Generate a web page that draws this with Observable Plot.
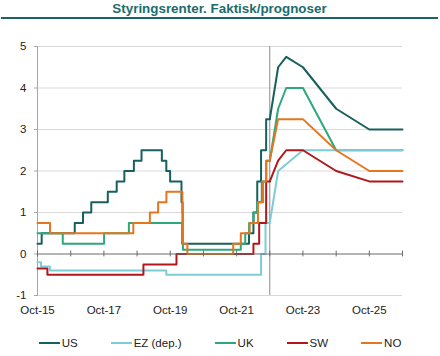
<!DOCTYPE html>
<html>
<head>
<meta charset="utf-8">
<script src="https://cdn.jsdelivr.net/npm/d3@7"></script>
<script src="https://cdn.jsdelivr.net/npm/@observablehq/plot@0.6"></script>
<style>
  body { margin: 0; background: #fff; font-family: "Liberation Sans", Arial, sans-serif; }
  #wrap { width: 440px; height: 356px; overflow: hidden; }
  #title { height: 17px; margin: 0 2px 0 1px; border-bottom: 2px solid #1d6363; text-align: center;
           font-weight: bold; font-size: 13.4px; line-height: 17px; color: #1d6b6b; }
  #legend { display: flex; justify-content: center; gap: 33px; font-size: 11.5px; color: #222;
            margin-top: 17px; line-height: 14px; }
  .item { display: flex; align-items: center; }
  .sw { width: 21px; height: 2px; margin-right: 2px; }
</style>
</head>
<body>
<div id="wrap">
  <div id="title">Styringsrenter. Faktisk/prognoser</div>
  <div id="chart"></div>
  <div id="legend"></div>
</div>
<script>
// ---- Data ----
const seriesNames = ["US", "EZ (dep.)", "UK", "SW", "NO"];
const seriesColors = ["#17605e", "#7ccdd6", "#2ca87a", "#b2181b", "#e5761f"];
const drawOrder = ["US", "UK", "EZ (dep.)", "SW", "NO"];

const usHistory = [["2015-10-31",0.25],["2015-12-16",0.5],["2016-12-14",0.75],["2017-03-15",1.0],["2017-06-14",1.25],
  ["2017-12-13",1.5],["2018-03-21",1.75],["2018-06-13",2.0],["2018-09-26",2.25],["2018-12-19",2.5],["2019-07-31",2.25],
  ["2019-09-18",2.0],["2019-10-30",1.75],["2020-03-03",1.25],["2020-03-15",0.25],["2022-03-16",0.5],["2022-05-04",1.0],
  ["2022-06-15",1.75],["2022-07-27",2.5],["2022-09-21",3.25],["2022-10-31",3.25]];
const usForecast = [["2022-10-31",3.25],["2023-01-31",4.5],["2023-04-30",4.75],["2023-10-31",4.5],["2024-10-31",3.5],
  ["2025-10-31",3.0],["2026-10-31",3.0]];

const ezHistory = [["2015-10-31",-0.2],["2015-12-09",-0.3],["2016-03-16",-0.4],["2019-09-18",-0.5],["2022-07-27",0.0],
  ["2022-09-14",0.75],["2022-10-31",0.75]];
const ezForecast = [["2022-10-31",0.75],["2023-01-31",2.0],["2023-10-31",2.5],["2024-10-31",2.5],["2025-10-31",2.5],
  ["2026-10-31",2.5]];

const ukHistory = [["2015-10-31",0.5],["2016-08-04",0.25],["2017-11-02",0.5],["2018-08-02",0.75],["2020-03-11",0.25],
  ["2020-03-19",0.1],["2021-12-16",0.25],["2022-02-03",0.5],["2022-03-17",0.75],["2022-05-05",1.0],["2022-06-16",1.25],
  ["2022-08-04",1.75],["2022-09-22",2.25],["2022-10-31",2.25]];
const ukForecast = [["2022-10-31",2.25],["2023-01-31",3.5],["2023-04-30",4.0],["2023-10-31",4.0],["2024-10-31",2.5],
  ["2025-10-31",2.5],["2026-10-31",2.5]];

const swHistory = [["2015-10-31",-0.35],["2016-02-17",-0.5],["2019-01-09",-0.25],["2020-01-08",0.0],["2022-05-04",0.25],
  ["2022-07-06",0.75],["2022-09-21",1.75],["2022-10-31",1.75]];
const swForecast = [["2022-10-31",1.75],["2023-01-31",2.25],["2023-04-30",2.5],["2023-10-31",2.5],["2024-10-31",2.0],
  ["2025-10-31",1.75],["2026-10-31",1.75]];

const noHistory = [["2015-10-31",0.75],["2016-03-17",0.5],["2018-09-20",0.75],["2019-03-21",1.0],["2019-06-20",1.25],
  ["2019-09-19",1.5],["2020-03-13",1.0],["2020-03-20",0.25],["2020-05-07",0.0],["2021-09-23",0.25],["2021-12-16",0.5],
  ["2022-03-24",0.75],["2022-06-23",1.25],["2022-08-18",1.75],["2022-09-22",2.25],["2022-10-31",2.25]];
const noForecast = [["2022-10-31",2.25],["2023-01-31",3.25],["2023-10-31",3.25],["2024-10-31",2.5],["2025-10-31",2.0],
  ["2026-10-31",2.0]];

const forecastStart = "2022-10-31";
const xDomain = ["2015-10-31", "2026-10-31"];
const yTicks = [-1, 0, 1, 2, 3, 4, 5];
const tickYears = [2015,2016,2017,2018,2019,2020,2021,2022,2023,2024,2025,2026];
const labelYears = [2015,2017,2019,2021,2023,2025];

// ---- Build ----
const parse = d3.utcParse("%Y-%m-%d");
const bySeries = {
  "US": [usHistory, usForecast], "EZ (dep.)": [ezHistory, ezForecast], "UK": [ukHistory, ukForecast],
  "SW": [swHistory, swForecast], "NO": [noHistory, noForecast]
};
const hist = [], fc = [];
for (const s of drawOrder) {
  bySeries[s][0].forEach(([d, v]) => hist.push({series: s, date: parse(d), value: v}));
  bySeries[s][1].forEach(([d, v]) => fc.push({series: s, date: parse(d), value: v}));
}
const yearDate = y => parse(`${y}-10-31`);
const tickDates = tickYears.map(yearDate);
const labelDates = labelYears.map(yearDate);

const chart = Plot.plot({
  width: 440,
  height: 300,
  marginTop: 27,
  marginBottom: 24,
  marginLeft: 37,
  marginRight: 38,
  style: {fontFamily: "'Liberation Sans', Arial, sans-serif", fontSize: "11.5px", color: "#222", background: "#fff"},
  x: {type: "utc", domain: xDomain.map(parse)},
  y: {domain: [-1, 5]},
  color: {domain: seriesNames, range: seriesColors},
  marks: [
    Plot.ruleY(yTicks.filter(d => d !== 0), {stroke: "#d9d9d9", strokeWidth: 1}),
    Plot.ruleX([parse(forecastStart)], {stroke: "#8c8c8c", strokeWidth: 1}),
    Plot.frame({anchor: "left", stroke: "#a6a6a6"}),
    Plot.axisY(yTicks, {tickSize: 3, tickPadding: 8, tickFormat: d => String(d), stroke: "#a6a6a6", label: null}),
    Plot.axisX(labelDates, {tickSize: 0, tickPadding: 10, tickFormat: d3.utcFormat("%b-%y"), label: null}),
    Plot.line(hist, {x: "date", y: "value", z: "series", stroke: "series", curve: "step-after", strokeWidth: 2}),
    Plot.line(fc, {x: "date", y: "value", z: "series", stroke: "series", strokeWidth: 2}),
    Plot.ruleY([0], {stroke: "#6b6b6b", strokeWidth: 1}),
    Plot.ruleX(tickDates, {y1: -0.07, y2: 0.07, stroke: "#6b6b6b", strokeWidth: 1})
  ]
});
document.getElementById("chart").appendChild(chart);

const legend = document.getElementById("legend");
seriesNames.forEach((n, i) => {
  const it = document.createElement("div");
  it.className = "item";
  it.innerHTML = `<span class="sw" style="background:${seriesColors[i]}"></span><span>${n}</span>`;
  legend.appendChild(it);
});
</script>
</body>
</html>
